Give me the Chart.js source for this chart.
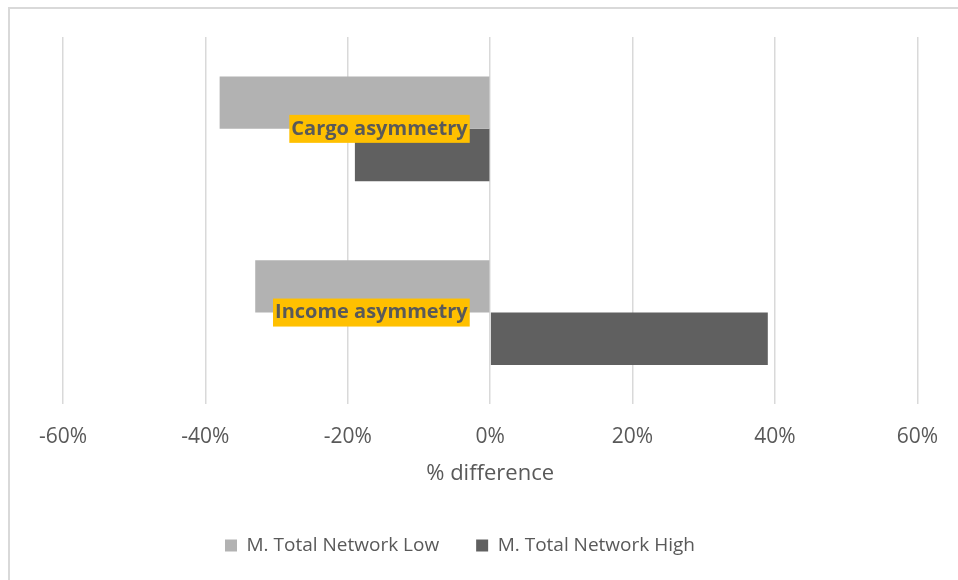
<!DOCTYPE html>
<html lang="en">
<head>
<meta charset="UTF-8">
<title>Cargo and income asymmetry</title>
<script src="https://cdn.jsdelivr.net/npm/chart.js"></script>
<style>
    html, body { margin: 0; padding: 0; background: #ffffff; overflow: hidden; }
    /* chart frame: only the left and top edges show inside the picture */
    .frame {
        position: absolute; left: 8px; top: 7px;
        width: 1000px; height: 620px;
        border: 2px solid #d9d9d9; box-sizing: border-box;
    }
    .wrap { position: absolute; left: 0; top: 0; width: 958px; height: 580px; }
</style>
</head>
<body>
<div class="frame"></div>
<div class="wrap"><canvas id="chart" width="958" height="580"></canvas></div>

<script>
    // data (% difference)
    const categories = ['Cargo asymmetry', 'Income asymmetry'];
    const seriesNames = ['M. Total Network Low', 'M. Total Network High'];
    const networkLow = [-38, -33];
    const networkHigh = [-19, 39];
    const xTicks = [-60, -40, -20, 0, 20, 40, 60];

    Chart.defaults.font.family = "'Open Sans', sans-serif";
    Chart.defaults.color = '#595959';

    // move the legend a bit left, as in the original
    const legendShift = {
        id: 'legendShift',
        afterLayout(chart) {
            chart.legend.left -= 31;
            chart.legend.right -= 31;
        }
    };

    new Chart(document.getElementById('chart'), {
        type: 'bar',
        data: {
            labels: categories,
            datasets: [
                { label: seriesNames[0], data: networkLow, backgroundColor: '#b2b2b2' },
                { label: seriesNames[1], data: networkHigh, backgroundColor: '#606060' }
            ]
        },
        options: {
            indexAxis: 'y',
            responsive: false,
            animation: false,
            categoryPercentage: 0.57,
            barPercentage: 1,
            layout: { padding: { left: 63, right: 39, top: 37, bottom: 15 } },
            scales: {
                x: {
                    min: -60,
                    max: 60,
                    afterBuildTicks: s => { s.ticks = xTicks.map(v => ({ value: v })); },
                    grid: { color: '#d9d9d9', lineWidth: 1.5, drawTicks: false },
                    border: { display: false },
                    ticks: {
                        padding: 20,
                        font: { size: 21 },
                        callback: v => v + '%'
                    },
                    title: {
                        display: true,
                        text: '% difference',
                        font: { size: 22 },
                        padding: { top: -9, bottom: 12 }
                    }
                },
                y: {
                    // category labels sit just left of the zero line (a few % left of it)
                    position: { x: -3.15 },
                    grid: { display: false, drawTicks: false },
                    border: { display: false },
                    ticks: {
                        z: 1,
                        font: { size: 20, weight: 'bold' },
                        showLabelBackdrop: true,
                        backdropColor: '#ffc000',
                        backdropPadding: { left: 2, right: 2, top: 2, bottom: 2 }
                    }
                }
            },
            plugins: {
                legend: {
                    position: 'bottom',
                    labels: {
                        font: { size: 19 },
                        boxWidth: 12,
                        boxHeight: 12,
                        padding: 37
                    }
                },
                tooltip: { enabled: false }
            }
        },
        plugins: [legendShift]
    });
</script>
</body>
</html>
